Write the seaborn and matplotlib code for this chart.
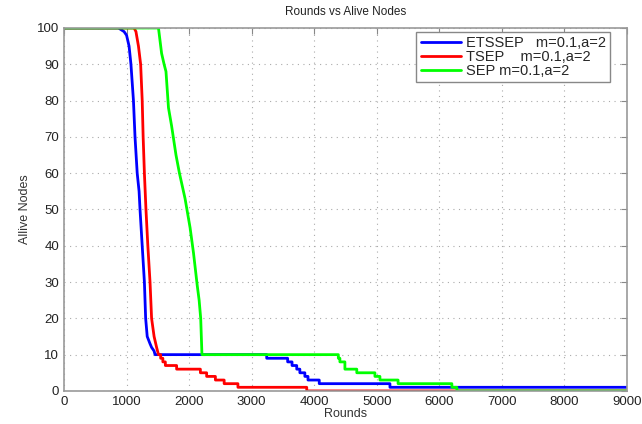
import seaborn as sns
import matplotlib
matplotlib.use("Agg")
import matplotlib.pyplot as plt
import pandas as pd

# values: steep part (drawn as a line) + later one-node drops
etssep_rounds = [0, 870, 960, 1000, 1040, 1070, 1110, 1135, 1170, 1200, 1215, 1250, 1285, 1305, 1330, 1375, 1400, 1440, 1455]
etssep_alive = [100, 100, 99, 98, 95, 90, 80, 70, 60, 55, 50, 40, 30, 20, 15, 13, 12, 11, 10]
etssep_drop_rounds = [3240, 3575, 3645, 3720, 3770, 3850, 3900, 4080, 5210]
etssep_drop_alive = [9, 8, 7, 6, 5, 4, 3, 2, 1]

tsep_rounds = [0, 1120, 1150, 1190, 1225, 1250, 1265, 1285, 1310, 1340, 1375, 1400, 1440, 1480, 1510]
tsep_alive = [100, 100, 99, 95, 90, 80, 70, 60, 50, 40, 30, 20, 15, 12, 10]
tsep_drop_rounds = [1545, 1580, 1620, 1800, 2180, 2280, 2420, 2560, 2780, 3880]
tsep_drop_alive = [9, 8, 7, 6, 5, 4, 3, 2, 1, 0]

sep_rounds = [0, 1510, 1560, 1600, 1630, 1670, 1720, 1790, 1845, 1935, 2015, 2070, 2130, 2160, 2185, 2205]
sep_alive = [100, 100, 93, 90, 88, 78, 73, 65, 60, 53, 45, 38, 29, 25, 20, 10]
sep_drop_rounds = [4385, 4410, 4490, 4680, 4970, 5050, 5340, 6200, 6280]
sep_drop_alive = [9, 8, 6, 5, 4, 3, 2, 1, 0]

labels = ["ETSSEP   m=0.1,a=2", "TSEP    m=0.1,a=2", "SEP m=0.1,a=2"]
colors = ["#0000ff", "#ff0000", "#00ff00"]
max_round = 9000


def build_curve(rounds, alive, drop_rounds, drop_alive):
    xs, ys = list(rounds), list(alive)
    for r, v in zip(drop_rounds, drop_alive):
        xs += [r, r]
        ys += [ys[-1], v]
    xs.append(max_round)
    ys.append(ys[-1])
    return pd.DataFrame({"Rounds": xs, "Alive": ys})


curves = [
    build_curve(etssep_rounds, etssep_alive, etssep_drop_rounds, etssep_drop_alive),
    build_curve(tsep_rounds, tsep_alive, tsep_drop_rounds, tsep_drop_alive),
    build_curve(sep_rounds, sep_alive, sep_drop_rounds, sep_drop_alive),
]

sns.set_style("white")
plt.rcParams['font.family'] = ['Liberation Sans', 'DejaVu Sans']

fig = plt.figure(figsize=(6.42, 4.24), dpi=100)
ax = fig.add_axes([0.0997, 0.078, 0.877, 0.856])

for df, lab, col in zip(curves, labels, colors):
    sns.lineplot(data=df, x="Rounds", y="Alive", sort=False, estimator=None,
                 color=col, linewidth=2, label=lab, ax=ax)

ax.set_xlim(0, 9000)
ax.set_ylim(0, 100)
ax.set_xticks(range(0, 9001, 1000))
ax.set_yticks(range(0, 101, 10))
ax.grid(True, linestyle=(0, (1, 4)), color="#aaaaaa", linewidth=0.8)
ax.tick_params(direction="in", length=4, top=True, right=True, labelsize=9.5,
               colors="#888888", labelcolor="#222222")
for s in ax.spines.values():
    s.set_color("#999999")
    s.set_linewidth(1.2)

ax.set_title("Rounds vs Alive Nodes", fontsize=8.5, color="#222222", pad=9)
ax.set_xlabel("Rounds", fontsize=9, color="#333333", labelpad=0)
ax.set_ylabel("Allive Nodes", fontsize=9, color="#333333", labelpad=4)

leg = ax.legend(loc="upper right", bbox_to_anchor=(0.97, 0.99), fontsize=10.5,
                handlelength=2.8, fancybox=False, framealpha=1,
                edgecolor="#888888", borderpad=0.3, labelspacing=0.0,
                handletextpad=0.3, borderaxespad=0.0)
leg.get_frame().set_linewidth(1.0)

fig.savefig("out.png", dpi=100)
